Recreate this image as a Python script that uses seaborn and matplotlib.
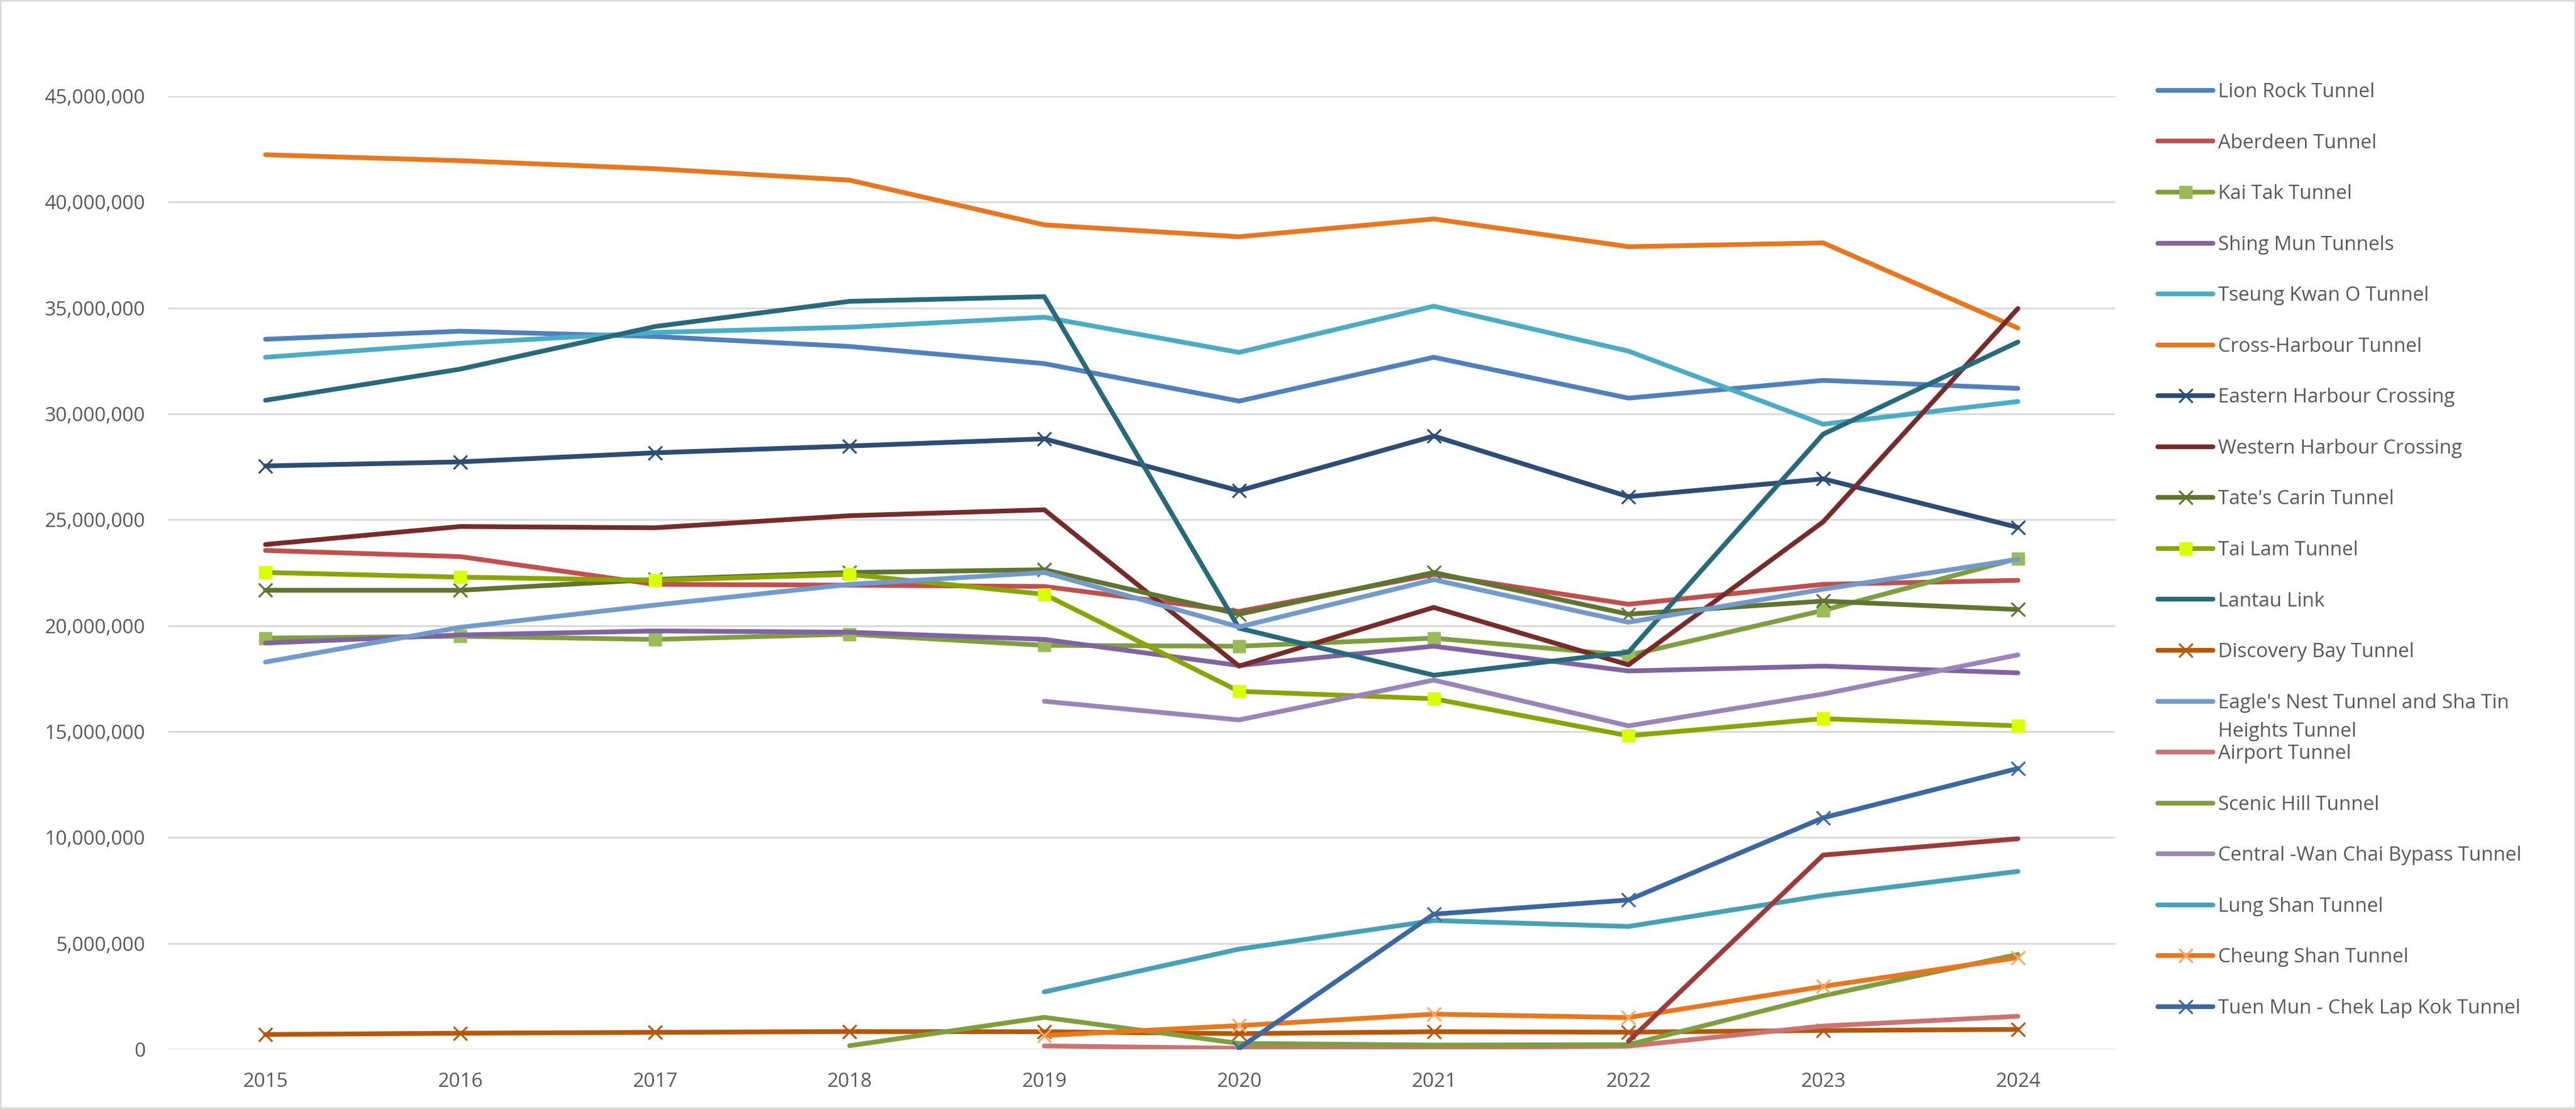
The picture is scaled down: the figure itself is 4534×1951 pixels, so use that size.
import matplotlib
matplotlib.use("Agg")
import matplotlib.pyplot as plt
import seaborn as sns
import numpy as np
import pandas as pd
from matplotlib.ticker import FuncFormatter
from matplotlib.patches import Rectangle

# ---------------- data ----------------
years = [2015, 2016, 2017, 2018, 2019, 2020, 2021, 2022, 2023, 2024]

lion_rock      = [33520000, 33900000, 33650000, 33180000, 32370000, 30600000, 32670000, 30740000, 31580000, 31200000]
aberdeen       = [23550000, 23260000, 21950000, 21910000, 21850000, 20670000, 22420000, 21010000, 21950000, 22140000]
kai_tak        = [19410000, 19500000, 19350000, 19600000, 19070000, 19030000, 19410000, 18600000, 20720000, 23170000]
shing_mun      = [19180000, 19560000, 19750000, 19690000, 19350000, 18120000, 19030000, 17860000, 18090000, 17770000]
tseung_kwan_o  = [32670000, 33330000, 33840000, 34090000, 34560000, 32900000, 35080000, 32960000, 29510000, 30580000]
cross_harbour  = [42230000, 41950000, 41570000, 41030000, 38920000, 38360000, 39200000, 37890000, 38070000, 34050000]
eastern_hc     = [27540000, 27730000, 28160000, 28480000, 28820000, 26370000, 28950000, 26090000, 26930000, 24640000]
western_hc     = [23830000, 24680000, 24620000, 25190000, 25470000, 18090000, 20860000, 18150000, 24900000, 34970000]
tates_cairn    = [21670000, 21670000, 22180000, 22510000, 22640000, 20540000, 22510000, 20540000, 21160000, 20760000]
tai_lam        = [22510000, 22290000, 22140000, 22420000, 21480000, 16900000, 16550000, 14800000, 15610000, 15270000]
lantau_link    = [30640000, 32110000, 34120000, 35310000, 35530000, 19880000, 17660000, 18750000, 29040000, 33390000]
discovery_bay  = [700000, 760000, 800000, 840000, 830000, 740000, 830000, 810000, 890000, 940000]
eagles_nest    = [18280000, 19920000, 20970000, 21950000, 22510000, 19940000, 22170000, 20160000, 21720000, 23130000]
airport        = [None, None, None, None, 160000, 50000, 80000, 150000, 1100000, 1560000]
scenic_hill    = [None, None, None, 170000, 1510000, 280000, 200000, 220000, 2530000, 4480000]
central_wcb    = [None, None, None, None, 16430000, 15550000, 17430000, 15270000, 16770000, 18620000]
lung_shan      = [None, None, None, None, 2710000, 4730000, 6080000, 5800000, 7260000, 8400000]
cheung_shan    = [None, None, None, None, 650000, 1120000, 1660000, 1500000, 2970000, 4330000]
tuen_mun_clk   = [None, None, None, None, None, 50000, 6380000, 7050000, 10930000, 13260000]
unlabelled     = [None, None, None, None, None, None, None, 380000, 9170000, 9940000]

names = [
    "Lion Rock Tunnel", "Aberdeen Tunnel", "Kai Tak Tunnel", "Shing Mun Tunnels",
    "Tseung Kwan O Tunnel", "Cross-Harbour Tunnel", "Eastern Harbour Crossing",
    "Western Harbour Crossing", "Tate's Carin Tunnel", "Tai Lam Tunnel", "Lantau Link",
    "Discovery Bay Tunnel", "Eagle's Nest Tunnel and Sha Tin", "Airport Tunnel",
    "Scenic Hill Tunnel", "Central -Wan Chai Bypass Tunnel", "Lung Shan Tunnel",
    "Cheung Shan Tunnel", "Tuen Mun - Chek Lap Kok Tunnel", "_unlabelled",
]
values = [lion_rock, aberdeen, kai_tak, shing_mun, tseung_kwan_o, cross_harbour,
          eastern_hc, western_hc, tates_cairn, tai_lam, lantau_link, discovery_bay,
          eagles_nest, airport, scenic_hill, central_wcb, lung_shan, cheung_shan,
          tuen_mun_clk, unlabelled]

# ---------------- styles ----------------
styles = [
    dict(color="#4F81BD"),
    dict(color="#C0504D"),
    dict(color="#7F9F3F", marker="s", mfc="#9BBB59", mec="#9BBB59"),
    dict(color="#8064A2"),
    dict(color="#4BACC6"),
    dict(color="#E8771E"),
    dict(color="#2C4D75", marker="x", mec="#2C4D75"),
    dict(color="#772C2A"),
    dict(color="#5F7530", marker="x", mec="#5F7530"),
    dict(color="#8AA500", marker="s", mfc="#D9FF00", mec="#D9FF00"),
    dict(color="#276A7C"),
    dict(color="#B65708", marker="x", mec="#B65708"),
    dict(color="#729ACA"),
    dict(color="#CD7371"),
    dict(color="#7F9F3F"),
    dict(color="#9A84B8"),
    dict(color="#46A1B5"),
    dict(color="#E8771E", marker="x", mec="#F9A867"),
    dict(color="#3A68A0", marker="x", mec="#3A68A0"),
    dict(color="#9E3B38"),
]

sns.set_theme(style="white")
plt.rcParams["font.family"] = ["Open Sans", "DejaVu Sans"]
text_color = "#595959"

W, H = 4534, 1951
fig = plt.figure(figsize=(W / 100, H / 100), dpi=100)
fig.patch.set_facecolor("white")
left, right = 296 / W, 3723 / W
bottom, top = (H - 1846) / H, (H - 169) / H
ax = fig.add_axes([left, bottom, right - left, top - bottom])

x_idx = np.arange(len(years))
for name, vals, st in zip(names, values, styles):
    df = pd.DataFrame({"x": x_idx, "y": pd.array(vals, dtype="Float64")}).dropna()
    df["y"] = df["y"].astype(float)
    kw = dict(color=st["color"], linewidth=6.0, solid_capstyle="round",
              solid_joinstyle="round")
    if "marker" in st:
        if st["marker"] == "s":
            kw.update(marker="s", markersize=16, markerfacecolor=st["mfc"],
                      markeredgecolor=st["mec"], markeredgewidth=1.0)
        else:
            kw.update(marker="x", markersize=17, markeredgecolor=st["mec"],
                      markeredgewidth=2.4)
    sns.lineplot(data=df, x="x", y="y", ax=ax, label=name, **kw)

if ax.get_legend() is not None:
    ax.get_legend().remove()

ax.set_xlim(-0.5, len(years) - 0.5)
ax.set_ylim(0, 45000000)
ax.set_yticks(np.arange(0, 45000001, 5000000))
ax.yaxis.set_major_formatter(FuncFormatter(lambda v, p: f"{v:,.0f}"))
ax.set_xticks(x_idx)
ax.set_xticklabels([str(y) for y in years])
ax.set_xlabel("")
ax.set_ylabel("")
ax.grid(axis="y", color="#D9D9D9", linewidth=2.2)
ax.grid(axis="x", visible=False)
ax.set_axisbelow(True)
for s in ax.spines.values():
    s.set_visible(False)
ax.tick_params(axis="both", length=0, labelsize=25, labelcolor=text_color)
ax.tick_params(axis="y", pad=29)
ax.tick_params(axis="x", pad=29)

handles, labels = ax.get_legend_handles_labels()
leg = fig.legend(handles, labels, loc="upper left",
                 bbox_to_anchor=(3798 / W, 1 - 145 / H),
                 frameon=False, fontsize=25, labelcolor=text_color,
                 handlelength=2.8, handletextpad=0.25, labelspacing=1.6,
                 borderpad=0, borderaxespad=0, numpoints=1)

fig.canvas.draw()
for t in leg.get_texts():
    if t.get_text().startswith("Eagle"):
        bb = t.get_window_extent()
        fig.text(bb.x0 / W, (bb.y0 - 50) / H, "Heights Tunnel", fontsize=25,
                 color=text_color, ha="left", va="bottom")

fig.patches.append(Rectangle((0, 0), 1, 1, transform=fig.transFigure, fill=False,
                             edgecolor="#D9D9D9", linewidth=4))

fig.savefig("out.png", dpi=100)
